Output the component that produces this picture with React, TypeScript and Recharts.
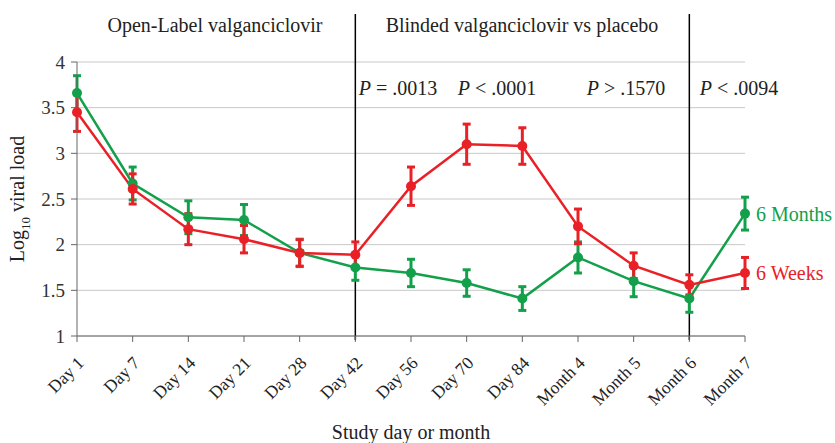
import React from 'react';
import {
  LineChart,
  Line,
  XAxis,
  YAxis,
  CartesianGrid,
  ErrorBar,
  ReferenceLine,
} from 'recharts';

const categories = [
  'Day 1', 'Day 7', 'Day 14', 'Day 21', 'Day 28', 'Day 42', 'Day 56',
  'Day 70', 'Day 84', 'Month 4', 'Month 5', 'Month 6', 'Month 7',
];
const monthsValues = [3.66, 2.67, 2.30, 2.27, 1.91, 1.75, 1.69, 1.58, 1.41, 1.86, 1.60, 1.41, 2.34];
const monthsErrors = [0.19, 0.18, 0.18, 0.17, 0.15, 0.14, 0.15, 0.145, 0.13, 0.17, 0.17, 0.15, 0.18];
const weeksValues = [3.45, 2.61, 2.17, 2.06, 1.91, 1.89, 2.64, 3.10, 3.08, 2.20, 1.77, 1.56, 1.69];
const weeksErrors = [0.21, 0.165, 0.17, 0.15, 0.145, 0.14, 0.21, 0.22, 0.2, 0.19, 0.14, 0.11, 0.17];
const yTicks = [1, 1.5, 2, 2.5, 3, 3.5, 4];
const phaseBreaks = ['Day 42', 'Month 6'];
const pLabels = [
  { op: '=', val: '.0013', x: 398 },
  { op: '<', val: '.0001', x: 497 },
  { op: '>', val: '.1570', x: 626 },
  { op: '<', val: '.0094', x: 739 },
];

const GREEN = '#13a04b';
const RED = '#ea2027';
const FONT = '"Liberation Serif", "DejaVu Serif", serif';

const data = categories.map((name, i) => ({
  name,
  months: monthsValues[i],
  monthsErr: monthsErrors[i],
  weeks: weeksValues[i],
  weeksErr: weeksErrors[i],
}));

const XTick = (props: any) => {
  const { x, y, payload } = props;
  return (
    <g transform={`translate(${x + 8},${y + 20})`}>
      <text textAnchor="end" transform="rotate(-45)" fontSize={17.5} fill="#222" fontFamily={FONT}>
        {payload.value}
      </text>
    </g>
  );
};

const endLabel = (text: string, color: string) => (props: any) => {
  const { x, y, index } = props;
  if (index !== categories.length - 1) return null;
  return (
    <text x={x + 11} y={y + 7} fill={color} fontSize={20} fontFamily={FONT}>
      {text}
    </text>
  );
};

const overlay = (left: number, top: number): React.CSSProperties => ({
  position: 'absolute',
  left,
  top,
  transform: 'translate(-50%,-50%)',
  fontSize: 20,
  color: '#222',
  whiteSpace: 'nowrap',
});

export default function App() {
  return (
    <div style={{ position: 'absolute', left: 0, top: 0, width: 835, height: 443, background: '#fff', fontFamily: FONT }}>
      <LineChart
        width={835}
        height={443}
        data={data}
        margin={{ top: 62, right: 90, bottom: 37, left: 17 }}
      >
        <CartesianGrid vertical={false} stroke="#c8c8c8" />
        <XAxis
          dataKey="name"
          height={70}
          stroke="#666"
          tickSize={6}
          tick={<XTick />}
          interval={0}
        />
        <YAxis
          width={60}
          domain={[1, 4]}
          ticks={yTicks}
          stroke="#666"
          tickSize={6}
          tickMargin={6}
          tick={{ fill: '#333', fontSize: 19, fontFamily: FONT }}
          label={(props: any) => {
            const vb = props.viewBox;
            const cx = 24;
            const cy = vb.y + vb.height / 2;
            return (
              <text transform={`translate(${cx},${cy}) rotate(-90)`} textAnchor="middle" fontSize={20} fill="#222" fontFamily={FONT}>
                Log
                <tspan fontSize={13} dy={6}>10</tspan>
                <tspan dy={-6}> viral load</tspan>
              </text>
            );
          }}
        />
        {phaseBreaks.map((c) => (
          <ReferenceLine
            key={c}
            ifOverflow="visible"
            segment={[{ x: c, y: 0.955 }, { x: c, y: 4.525 }]}
            stroke="#000"
            strokeWidth={1.5}
          />
        ))}
        <Line
          dataKey="months"
          stroke={GREEN}
          strokeWidth={2.5}
          dot={{ r: 5, fill: GREEN, stroke: GREEN, strokeWidth: 0 }}
          isAnimationActive={false}
          label={endLabel('6 Months', GREEN)}
        >
          <ErrorBar dataKey="monthsErr" direction="y" width={4} stroke={GREEN} strokeWidth={3} />
        </Line>
        <Line
          dataKey="weeks"
          stroke={RED}
          strokeWidth={2.5}
          dot={{ r: 5, fill: RED, stroke: RED, strokeWidth: 0 }}
          isAnimationActive={false}
          label={endLabel('6 Weeks', RED)}
        >
          <ErrorBar dataKey="weeksErr" direction="y" width={4} stroke={RED} strokeWidth={3} />
        </Line>
      </LineChart>
      <div style={overlay(215, 25)}>Open-Label valganciclovir</div>
      <div style={overlay(522, 25)}>Blinded valganciclovir vs placebo</div>
      {pLabels.map((p) => (
        <div key={p.val} style={overlay(p.x, 88)}>
          <i>P</i> {p.op} {p.val}
        </div>
      ))}
      <div style={overlay(411, 432)}>Study day or month</div>
    </div>
  );
}
